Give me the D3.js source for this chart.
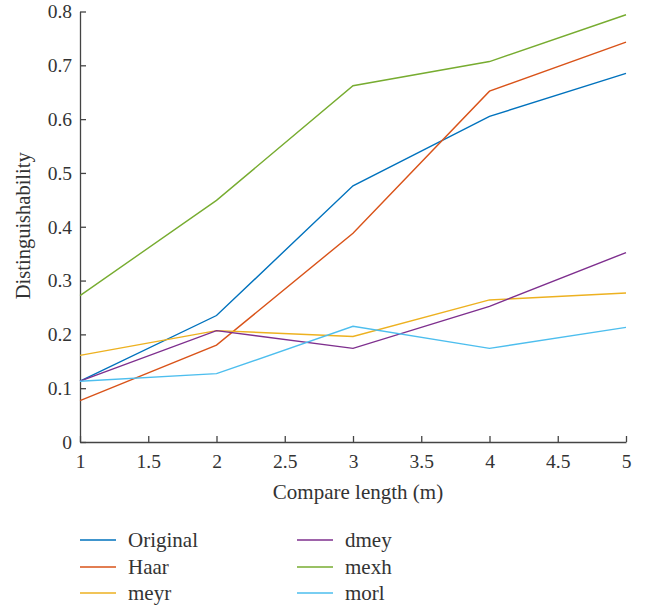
<!DOCTYPE html>
<html><head><meta charset="utf-8">
<script src="https://cdn.jsdelivr.net/npm/d3@7"></script>
<style>body{margin:0;background:#fff}svg{display:block}</style>
</head><body>
<svg id="c" width="655" height="610"></svg>
<script>
const xValues = [1, 2, 3, 4, 5];
const seriesNames = ["Original", "Haar", "meyr", "dmey", "mexh", "morl"];
const original = [0.113, 0.235, 0.476, 0.605, 0.685];
const haar     = [0.077, 0.180, 0.388, 0.652, 0.743];
const meyr     = [0.161, 0.207, 0.196, 0.264, 0.277];
const dmey     = [0.113, 0.207, 0.174, 0.252, 0.352];
const mexh     = [0.272, 0.449, 0.662, 0.707, 0.794];
const morl     = [0.113, 0.127, 0.215, 0.174, 0.213];
const colors   = ["#0072BD", "#D95319", "#EDB120", "#7E2F8E", "#77AC30", "#4DBEEE"];
const xTicks = [1, 1.5, 2, 2.5, 3, 3.5, 4, 4.5, 5];
const yTicks = [0, 0.1, 0.2, 0.3, 0.4, 0.5, 0.6, 0.7, 0.8];
const xLabel = "Compare length (m)";
const yLabel = "Distinguishability";

const allSeries = [original, haar, meyr, dmey, mexh, morl];
const svg = d3.select("#c");
const font = "'Liberation Serif', 'DejaVu Serif', serif";
const textColor = "#333";

const x = d3.scaleLinear().domain([1, 5]).range([80, 626]);
const y = d3.scaleLinear().domain([0, 0.8]).range([442, 11.5]);

// axes
const gx = svg.append("g").attr("transform", `translate(0,${y(0)})`)
  .call(d3.axisBottom(x).tickValues(xTicks).tickSizeInner(-6).tickSizeOuter(0).tickPadding(12).tickFormat(d3.format("")));
const gy = svg.append("g").attr("transform", `translate(${x(1)},0)`)
  .call(d3.axisLeft(y).tickValues(yTicks).tickSizeInner(-6).tickSizeOuter(0).tickPadding(8).tickFormat(d => d === 0 ? "0" : d3.format(".1f")(d)));
[gx, gy].forEach(g => {
  g.select(".domain").attr("stroke", "#444").attr("stroke-width", 1.3);
  g.selectAll(".tick line").attr("stroke", "#444").attr("stroke-width", 1.3);
  g.selectAll(".tick text").attr("font-family", font).attr("font-size", 19.5).attr("fill", textColor);
});

svg.append("text").attr("x", (x(1) + x(5)) / 2 + 5).attr("y", 499)
  .attr("text-anchor", "middle").attr("font-family", font).attr("font-size", 21).attr("fill", textColor)
  .text(xLabel);
svg.append("text").attr("transform", `translate(30,${(y(0) + y(0.8)) / 2 - 1}) rotate(-90)`)
  .attr("text-anchor", "middle").attr("font-family", font).attr("font-size", 20.5).attr("fill", textColor)
  .text(yLabel);

// lines
const line = d3.line().x((d, i) => x(xValues[i])).y(d => y(d));
allSeries.forEach((s, k) => {
  svg.append("path").datum(s).attr("d", line).attr("fill", "none")
    .attr("stroke", colors[k]).attr("stroke-width", 1.4);
});

// legend
const legX = [80, 297];
const legY = [540, 567, 593];
seriesNames.forEach((n, k) => {
  const col = Math.floor(k / 3), row = k % 3;
  const g = svg.append("g").attr("transform", `translate(${legX[col]},${legY[row]})`);
  g.append("line").attr("x1", 0).attr("x2", 36).attr("y1", 0).attr("y2", 0)
    .attr("stroke", colors[k]).attr("stroke-width", 1.4);
  g.append("text").attr("x", 48).attr("y", 6.5).attr("font-family", font).attr("font-size", 21)
    .attr("fill", textColor).text(n);
});
</script>
</body></html>
